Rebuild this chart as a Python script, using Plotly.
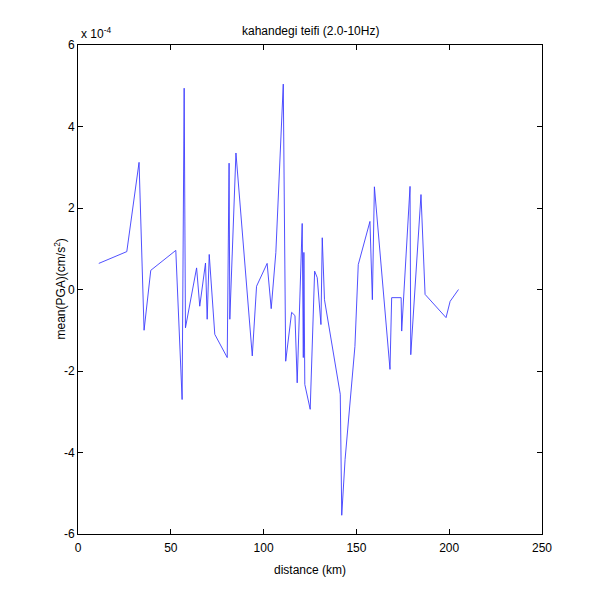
import plotly.graph_objects as go

# distance (km)
distance_km = [11.2, 26.3, 32.9, 35.6, 39.2, 52.7, 56.1, 57.2, 57.9, 63.9,
               65.6, 68.7, 69.6, 70.7, 73.7, 80.4, 81.4, 81.8, 85.1, 93.9,
               96.2, 101.9, 104.1, 106.6, 110.6, 111.9, 115.1, 116.9, 118.1, 120.8,
               121.4, 121.7, 122.2, 125.1, 127.5, 128.9, 130.9, 131.6, 132.8, 141.3,
               142.1, 143.9, 149.2, 151.0, 157.3, 158.6, 159.7, 168.1, 169.0, 174.1,
               174.4, 178.9, 179.3, 184.8, 187.0, 198.3, 200.5, 205.0]
# mean PGA in units of 1e-4 cm/s^2
mean_pga_e4 = [0.64, 0.93, 3.12, -1.0, 0.47, 0.96, -2.7, 4.94, -0.94, 0.53,
               -0.41, 0.65, -0.73, 0.86, -1.1, -1.67, 3.1, -0.73, 3.35, -1.63,
               0.08, 0.64, -0.47, 0.91, 5.04, -1.76, -0.56, -0.64, -2.29, 1.62,
               -1.67, 0.91, -2.33, -2.94, 0.45, 0.29, -0.86, 1.27, -0.25, -2.57,
               -5.54, -4.17, -1.40, 0.61, 1.67, -0.25, 2.52, -1.96, -0.2, -0.2,
               -1.02, 2.53, -1.6, 2.33, -0.12, -0.69, -0.29, 0.0]
scale = 1e-4

x_ticks = [0, 50, 100, 150, 200, 250]
y_ticks = [-6, -4, -2, 0, 2, 4, 6]

title_text = "kahandegi teifi (2.0-10Hz)"
x_label = "distance (km)"
y_label = "mean(PGA)(cm/s<sup>2</sup>)"

font_family = "Liberation Sans, Arial, sans-serif"

fig = go.Figure()
fig.add_trace(go.Scatter(
    x=distance_km,
    y=[v * scale for v in mean_pga_e4],
    mode="lines",
    line=dict(color="rgb(60,60,255)", width=0.9),
    showlegend=False,
))

axis_common = dict(
    showgrid=False, zeroline=False, showline=True, linecolor="black",
    linewidth=1, mirror="ticks", ticks="inside", ticklen=5, tickcolor="black",
    tickfont=dict(family=font_family, size=12, color="black"),
)

fig.update_layout(
    width=600, height=600,
    margin=dict(l=70, r=66, t=37, b=74),
    paper_bgcolor="white", plot_bgcolor="white",
    font=dict(family=font_family, color="black"),
    xaxis=dict(range=[0, 250], tickvals=x_ticks, ticklabelstandoff=3,
               ticktext=[str(t) for t in x_ticks], **axis_common),
    yaxis=dict(range=[-6 * scale, 6 * scale],
               tickvals=[t * scale for t in y_ticks],
               ticktext=[str(t) for t in y_ticks], **axis_common),
    annotations=[
        dict(text=title_text, x=0.5, y=1, xref="paper", yref="paper",
             xanchor="center", yanchor="bottom", yshift=5, showarrow=False,
             font=dict(size=12, family=font_family)),
        dict(text="x 10<sup>-4</sup>", x=0, y=1, xref="paper", yref="paper",
             xanchor="left", yanchor="bottom", xshift=1, yshift=2, showarrow=False,
             font=dict(size=12, family=font_family)),
        dict(text=x_label, x=0.5, y=0, xref="paper", yref="paper",
             xanchor="center", yanchor="top", yshift=-27, showarrow=False,
             font=dict(size=12, family=font_family)),
        dict(text=y_label, x=0, y=0.5, xref="paper", yref="paper",
             xanchor="right", yanchor="middle", xshift=-9, textangle=-90,
             showarrow=False, font=dict(size=12, family=font_family)),
    ],
)

fig.write_html("out.html")
